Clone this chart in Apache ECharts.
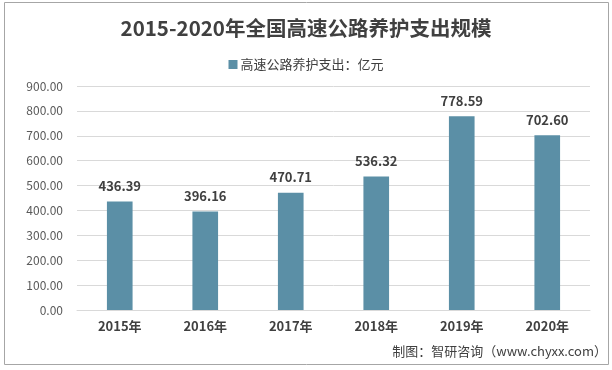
<!DOCTYPE html>
<html><head><meta charset="utf-8">
<script src="https://cdn.jsdelivr.net/npm/echarts@6/dist/echarts.min.js"></script>
<style>html,body{margin:0;padding:0;background:#fff}#c{width:612px;height:370px}</style>
</head><body><div id="c"></div>
<script>
const categories = ['2015年','2016年','2017年','2018年','2019年','2020年'];
const values = [436.39, 396.16, 470.71, 536.32, 778.59, 702.60];
const seriesName = '高速公路养护支出：亿元';
const titleText = '2015-2020年全国高速公路养护支出规模';
const sourceText = '制图：智研咨询（www.chyxx.com）';
const F = '"Noto Sans CJK SC", "Noto Sans", sans-serif';
const chart = echarts.init(document.getElementById('c'), null, {renderer:'canvas'});
chart.setOption({
  animation:false,
  title:{text:titleText,left:'center',top:13,textStyle:{fontFamily:F,fontSize:20.5,fontWeight:'bold',color:'#404040'}},
  legend:{top:53,left:'center',itemWidth:9,itemHeight:9,icon:'rect',itemGap:4,
    textStyle:{fontFamily:F,fontSize:13,color:'#404040',padding:[0,0,0,-2]},data:[seriesName]},
  grid:{left:77,right:22,top:86,bottom:60},
  xAxis:{type:'category',data:categories,axisTick:{show:false},
    axisLine:{lineStyle:{color:'#d9d9d9'}},
    axisLabel:{fontFamily:F,fontSize:13,fontWeight:'bold',color:'#404040',margin:10}},
  yAxis:{type:'value',min:0,max:900,interval:100,
    axisLabel:{fontFamily:F,fontSize:12,color:'#595959',margin:14,formatter:v=>v.toFixed(2)},
    splitLine:{lineStyle:{color:'#d9d9d9'}},axisLine:{show:false},axisTick:{show:false}},
  series:[{name:seriesName,type:'bar',data:values,barWidth:'30%',
    itemStyle:{color:'#5b8fa6'},
    label:{show:true,position:'top',distance:9,fontFamily:F,fontSize:13,fontWeight:'bold',color:'#404040',formatter:p=>p.value.toFixed(2)}}],
  graphic:[
    {type:'rect',shape:{x:4.5,y:2.5,width:604,height:362},style:{fill:'none',stroke:'#a6a6a6',lineWidth:1},silent:true},
    {type:'text',right:5,top:345,style:{text:sourceText,font:'13px '+F,fill:'#404040'}}
  ]
});
</script></body></html>
